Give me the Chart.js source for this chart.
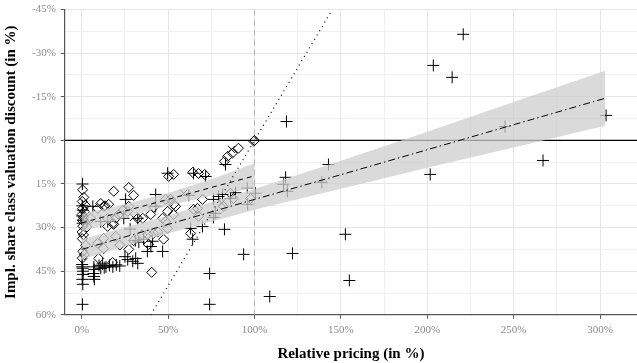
<!DOCTYPE html>
<html>
<head>
<meta charset="utf-8">
<script src="https://cdn.jsdelivr.net/npm/chart.js@4.4.1/dist/chart.umd.min.js"></script>
<style>
  html, body { margin: 0; padding: 0; background: #fff; }
  /* canvas is a bit larger than the window so the plot area runs to the right edge like the reference */
  #wrap { width: 637px; height: 363px; overflow: hidden; }
  #myChart { display: block; margin-top: -2px; }
</style>
</head>
<body>
<div id="wrap"><canvas id="myChart" width="644" height="365"></canvas></div>
<script>
// data (x = relative pricing %, y = implied discount %)
const diamondX = [0.5, 1.2, 0.3, 2.0, 0.5, 1.5, 0.2, 1.0, 0.4, 1.8, 0.6, 0.2, 1.0, 0.3, 2.3, 0.6, 1.5, 0.3, 5.2, 3.0,
  9.2, 12.7, 15.6, 11.0, 13.5, 18.5, 27.2, 30.0, 21.4, 26.6, 27.2, 18.5, 15.0, 19.7, 17.9, 15.0, 19.7, 12.7, 9.2, 12.7,
  27.2, 9.8, 17.9, 35.3, 32.4, 48.6, 53.2, 49.7, 53.2, 41.6, 39.9, 38.1, 41.6, 49.7, 47.4, 38.7, 40.5, 63.0, 64.7, 67.0,
  67.6, 86.1, 87.8, 82.0, 97.7, 69.9, 100.0, 99.6, 90.7, 87.2, 84.4, 82.6, 64.2, 67.6, 71.1, 53.2, 50.3, 51.4, 54.3, 46.8,
  48.6, 24.0, 22.0, 30.0, 44.0, 35.0];
const diamondY = [17.0, 19.6, 21.0, 22.3, 23.5, 24.5, 25.5, 26.5, 27.5, 28.2, 29.5, 31.5, 32.5, 33.8, 36.1, 38.2, 39.3, 40.5, 26.8, 29.8,
  23.4, 22.7, 22.0, 21.7, 22.5, 17.5, 16.2, 18.9, 25.5, 24.4, 22.7, 28.9, 26.8, 26.8, 28.6, 29.6, 33.0, 33.7, 35.4, 37.2,
  37.5, 40.6, 42.0, 26.8, 26.8, 20.3, 22.0, 24.4, 25.5, 23.0, 25.5, 32.3, 32.0, 30.3, 34.0, 35.8, 45.4, 32.0, 23.7, 23.4,
  26.1, 18.2, 20.0, 22.7, 20.0, 20.3, 0.0, 0.3, 2.7, 4.4, 5.5, 7.2, 11.0, 11.4, 11.7, 11.7, 12.4, 20.3, 22.7, 26.8,
  27.9, 24.0, 36.0, 34.5, 31.5, 32.5];

const plusX = [0.4, 0.3, 0.6, 0.2, 0.8, 0.5, 0.2, 0.5, 0.8, 0.3, 0.6, 0.4, 0.2, 0.7,
  7.0, 7.2, 6.8, 7.0, 7.3, 10, 12, 14, 16, 18, 20, 22, 11, 13,
  26.6, 29.5, 32.4, 31.2, 25.0, 40.0, 41.0, 38.0, 46.8, 35.8, 42.8, 42.8, 25.4, 24.3, 32.4, 11.0, 15.0, 6.4,
  62.0, 64.2, 63.0, 69.9, 76.3, 77.5, 81.5, 79.2, 86.1, 89.0, 95.8, 96.0, 100.6, 82.6, 93.7, 122.0, 108.8, 74.0, 74.0,
  116.8, 118.0, 119.0, 139.0, 142.8, 83.2, 49.7, 64.7, 71.7, 76.3, 118.5, 152.6, 154.9, 201.7, 203.5, 214.4, 220.8,
  245.0, 267.0, 303.5, 28.0, 31.0, 33.0];
const plusY = [15.0, 22.5, 24.0, 26.0, 27.5, 28.5, 42.7, 44.0, 46.1, 47.8, 49.5, 56.4, 43.5, 45.0,
  43.5, 44.4, 45.8, 46.8, 47.8, 43.0, 42.5, 43.5, 43.0, 43.5, 42.8, 43.2, 44.0, 43.8,
  41.0, 41.6, 42.3, 40.6, 40.0, 36.5, 34.7, 38.2, 38.2, 34.0, 18.6, 22.7, 20.3, 26.8, 26.8, 27.9, 27.9, 22.7,
  18.9, 34.0, 30.3, 29.6, 26.5, 25.1, 18.6, 19.3, 20.0, 18.0, 16.4, 22.0, 18.2, 30.6, 39.2, 38.9, 53.7, 45.8, 56.4,
  15.1, 12.7, 17.5, 14.4, 8.3, 8.3, 11.3, 11.3, 12.4, 20.3, -6.5, 32.3, 48.2, 11.7, -25.8, -21.7, -36.5,
  -4.8, 6.9, -8.6, 30.5, 34.5, 35.0];

const crossX = [86.7, 59.0, 81.0, 30.0];
const crossY = [3.1, 18.2, 21.5, 26.5];

// fitted lines and confidence bands
const longX = [0, 50, 100, 150, 200, 250, 303];
const longFit = [37.5, 28.9, 20.3, 11.8, 3.2, -5.4, -14.5];
const longLo = [34.0, 25.8, 16.7, 7.0, -3.0, -13.2, -24.0];
const longHi = [41.0, 32.0, 23.9, 16.6, 9.4, 2.4, -5.0];

const shortX = [0, 25, 50, 75, 100];
const shortFit = [28.4, 24.3, 20.3, 16.2, 12.2];
const shortLo = [25.3, 22.0, 18.1, 13.4, 7.9];
const shortHi = [31.5, 26.6, 22.5, 19.0, 16.5];

// 45 degree reference line (discount = 100 - pricing)
const refX = [40, 145];
const refY = [60, -45];

const xTicks = [0, 25, 50, 75, 100, 125, 150, 175, 200, 225, 250, 275, 300];
const yTicks = [-45, -37.5, -30, -22.5, -15, -7.5, 0, 7.5, 15, 22.5, 30, 37.5, 45, 52.5, 60];
const xMin = -9.8, xMax = 321.4, yMin = -45, yMax = 60;

const pts = (xs, ys) => xs.map((x, i) => ({ x: x, y: ys[i] }));

const bandFill = "rgba(205,205,205,0.75)";
const serif = "'Liberation Serif', 'DejaVu Serif', serif";

const isMajorX = (v) => v % 50 === 0;
const isMajorY = (v) => v % 15 === 0;

const ctx = document.getElementById("myChart");
// eslint-disable-next-line
const myChart = new Chart(ctx, {
  type: "scatter",
  data: {
    datasets: [
      {
        data: pts([xMin, xMax], [0, 0]),
        showLine: true, pointRadius: 0, borderColor: "#000", borderWidth: 1.2, order: 9,
      },
      {
        data: pts([100, 100], [yMin, yMax]),
        showLine: true, pointRadius: 0, borderColor: "#b5b5b5", borderWidth: 1, borderDash: [6, 4], order: 9,
      },
      {
        data: pts(diamondX, diamondY),
        pointStyle: "rectRot", pointRadius: 5, pointBorderColor: "#000", pointBackgroundColor: "rgba(0,0,0,0)",
        pointBorderWidth: 1, order: 8,
      },
      {
        data: pts(plusX, plusY),
        pointStyle: "cross", pointRadius: 6, pointBorderColor: "#000", pointBorderWidth: 1, order: 8,
      },
      {
        data: pts(crossX, crossY),
        pointStyle: "crossRot", pointRadius: 5, pointBorderColor: "#000", pointBorderWidth: 1, order: 8,
      },
      {
        data: pts(longX, longLo),
        showLine: true, pointRadius: 0, borderWidth: 0, fill: "+1", backgroundColor: bandFill, order: 5,
      },
      {
        data: pts(longX, longHi),
        showLine: true, pointRadius: 0, borderWidth: 0, fill: false, order: 5,
      },
      {
        data: pts(shortX, shortLo),
        showLine: true, pointRadius: 0, borderWidth: 0, fill: "+1", backgroundColor: bandFill, order: 5,
      },
      {
        data: pts(shortX, shortHi),
        showLine: true, pointRadius: 0, borderWidth: 0, fill: false, order: 5,
      },
      {
        data: pts(longX, longFit),
        showLine: true, pointRadius: 0, borderColor: "#000", borderWidth: 1, borderDash: [7, 3, 1.5, 3], order: 1,
      },
      {
        data: pts(shortX, shortFit),
        showLine: true, pointRadius: 0, borderColor: "#000", borderWidth: 1, borderDash: [5, 4], order: 1,
      },
      {
        data: pts(refX, refY),
        showLine: true, pointRadius: 0, borderColor: "#000", borderWidth: 1.2, borderDash: [1, 4], order: 1,
      },
    ],
  },
  options: {
    responsive: false,
    animation: false,
    layout: { padding: { top: 2, right: 0, left: 2, bottom: 0 } },
    plugins: { legend: { display: false }, tooltip: { enabled: false } },
    scales: {
      x: {
        type: "linear", min: xMin, max: xMax,
        afterBuildTicks: (scale) => { scale.ticks = xTicks.map((v) => ({ value: v })); },
        grid: {
          color: (c) => (c.tick && isMajorX(c.tick.value) ? "#e6e6e6" : "#f0f0f0"),
          tickColor: (c) => (c.tick && isMajorX(c.tick.value) ? "#555" : "rgba(0,0,0,0)"),
          tickLength: 4,
        },
        border: { display: true, color: "#555", width: 1.2 },
        ticks: {
          autoSkip: false, maxRotation: 0, padding: 5, color: "#8a8a8a",
          font: { family: serif, size: 11 },
          callback: (v) => (isMajorX(v) ? v + "%" : ""),
        },
        title: {
          display: true, text: "Relative pricing (in %)", color: "#000",
          font: { family: serif, size: 15, weight: "bold" }, padding: { top: 3, bottom: 0 },
        },
      },
      y: {
        type: "linear", min: yMin, max: yMax, reverse: true,
        afterBuildTicks: (scale) => { scale.ticks = yTicks.map((v) => ({ value: v })); },
        grid: {
          color: (c) => (c.tick && isMajorY(c.tick.value) ? "#e6e6e6" : "#f0f0f0"),
          tickColor: (c) => (c.tick && isMajorY(c.tick.value) ? "#555" : "rgba(0,0,0,0)"),
          tickLength: 4,
        },
        border: { display: true, color: "#555", width: 1.2 },
        ticks: {
          autoSkip: false, padding: 5, color: "#8a8a8a",
          font: { family: serif, size: 11 },
          callback: (v) => (isMajorY(v) ? v + "%" : ""),
        },
        title: {
          display: true, text: "Impl. share class valuation discount (in %)", color: "#000",
          font: { family: serif, size: 15, weight: "bold" }, padding: { top: 0, bottom: 7 },
        },
      },
    },
  },
});
</script>
</body>
</html>
